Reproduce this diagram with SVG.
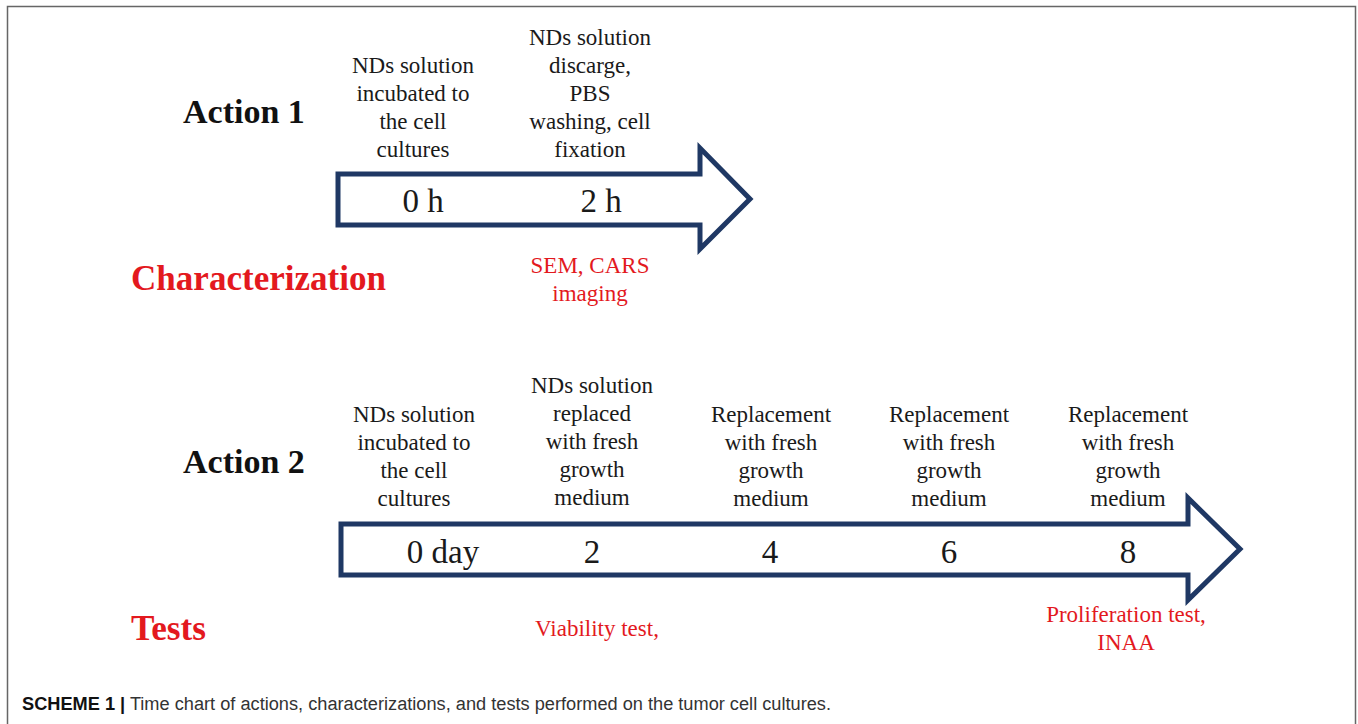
<svg xmlns="http://www.w3.org/2000/svg" width="1358" height="724" viewBox="0 0 1358 724">
<style>
.lbl{font-family:"Liberation Serif","Times New Roman",serif;font-size:23px;fill:#1a1a1a;text-anchor:middle}
.num{font-family:"Liberation Serif","Times New Roman",serif;font-size:33px;fill:#1a1a1a;text-anchor:middle}
.head{font-family:"Liberation Serif","Times New Roman",serif;font-size:34px;font-weight:bold;fill:#111}
.rhead{font-family:"Liberation Serif","Times New Roman",serif;font-size:35px;font-weight:bold;fill:#E3191E}
.red{font-family:"Liberation Serif","Times New Roman",serif;font-size:23px;fill:#E3191E;text-anchor:middle}
.arrow{fill:#fff;stroke:#1F3864;stroke-width:5;stroke-linejoin:miter}
.cap{font-family:"Liberation Sans",Arial,sans-serif;font-size:18px;fill:#333}
</style>
<rect width="1358" height="724" fill="#fff"/>
<path d="M7.5 730 V6.5 H1355.5 V730" fill="none" stroke="#666" stroke-width="1.5"/>
<g id="connectors">
<path id="arrow1" class="arrow" d="M338 174 H700 V148 L750 199 L700 249 V225 H338 Z"/>
<path id="arrow2" class="arrow" d="M341 524 H1188 V498 L1240 549 L1188 600 V575 H341 Z"/>
</g>
<g id="action1-title"><text class="head" x="183" y="123">Action 1</text></g>
<g id="a1-col1">
<text class="lbl" x="413" y="73">NDs solution</text>
<text class="lbl" x="413" y="101">incubated to</text>
<text class="lbl" x="413" y="129">the cell</text>
<text class="lbl" x="413" y="157">cultures</text>
</g>
<g id="a1-col2">
<text class="lbl" x="590" y="45">NDs solution</text>
<text class="lbl" x="590" y="73">discarge,</text>
<text class="lbl" x="590" y="101">PBS</text>
<text class="lbl" x="590" y="129">washing, cell</text>
<text class="lbl" x="590" y="157">fixation</text>
</g>
<g id="a1-times">
<text class="num" x="423" y="212">0 h</text>
<text class="num" x="601" y="212">2 h</text>
</g>
<g id="characterization"><text class="rhead" x="131" y="290" textLength="255" lengthAdjust="spacingAndGlyphs">Characterization</text></g>
<g id="sem">
<text class="red" x="590" y="273">SEM, CARS</text>
<text class="red" x="590" y="301">imaging</text>
</g>
<g id="action2-title"><text class="head" x="183" y="473">Action 2</text></g>
<g id="a2-col1">
<text class="lbl" x="414" y="422">NDs solution</text>
<text class="lbl" x="414" y="450">incubated to</text>
<text class="lbl" x="414" y="478">the cell</text>
<text class="lbl" x="414" y="506">cultures</text>
</g>
<g id="a2-col2">
<text class="lbl" x="592" y="393">NDs solution</text>
<text class="lbl" x="592" y="421">replaced</text>
<text class="lbl" x="592" y="449">with fresh</text>
<text class="lbl" x="592" y="477">growth</text>
<text class="lbl" x="592" y="505">medium</text>
</g>
<g id="a2-col3">
<text class="lbl" x="771" y="422">Replacement</text>
<text class="lbl" x="771" y="450">with fresh</text>
<text class="lbl" x="771" y="478">growth</text>
<text class="lbl" x="771" y="506">medium</text>
</g>
<g id="a2-col4">
<text class="lbl" x="949" y="422">Replacement</text>
<text class="lbl" x="949" y="450">with fresh</text>
<text class="lbl" x="949" y="478">growth</text>
<text class="lbl" x="949" y="506">medium</text>
</g>
<g id="a2-col5">
<text class="lbl" x="1128" y="422">Replacement</text>
<text class="lbl" x="1128" y="450">with fresh</text>
<text class="lbl" x="1128" y="478">growth</text>
<text class="lbl" x="1128" y="506">medium</text>
</g>
<g id="a2-times">
<text class="num" x="443" y="563" font-size="36">0 day</text>
<text class="num" x="592" y="563" font-size="36">2</text>
<text class="num" x="770" y="563" font-size="36">4</text>
<text class="num" x="949" y="563" font-size="36">6</text>
<text class="num" x="1128" y="563" font-size="36">8</text>
</g>
<g id="tests"><text class="rhead" x="131" y="640" textLength="75" lengthAdjust="spacingAndGlyphs">Tests</text></g>
<g id="viability"><text class="red" x="597" y="636">Viability test,</text></g>
<g id="proliferation">
<text class="red" x="1126" y="622">Proliferation test,</text>
<text class="red" x="1126" y="650">INAA</text>
</g>
<g id="caption"><text class="cap" x="22" y="710" textLength="809" lengthAdjust="spacingAndGlyphs"><tspan font-weight="bold" fill="#111">SCHEME 1 |</tspan> Time chart of actions, characterizations, and tests performed on the tumor cell cultures.</text></g>
</svg>
